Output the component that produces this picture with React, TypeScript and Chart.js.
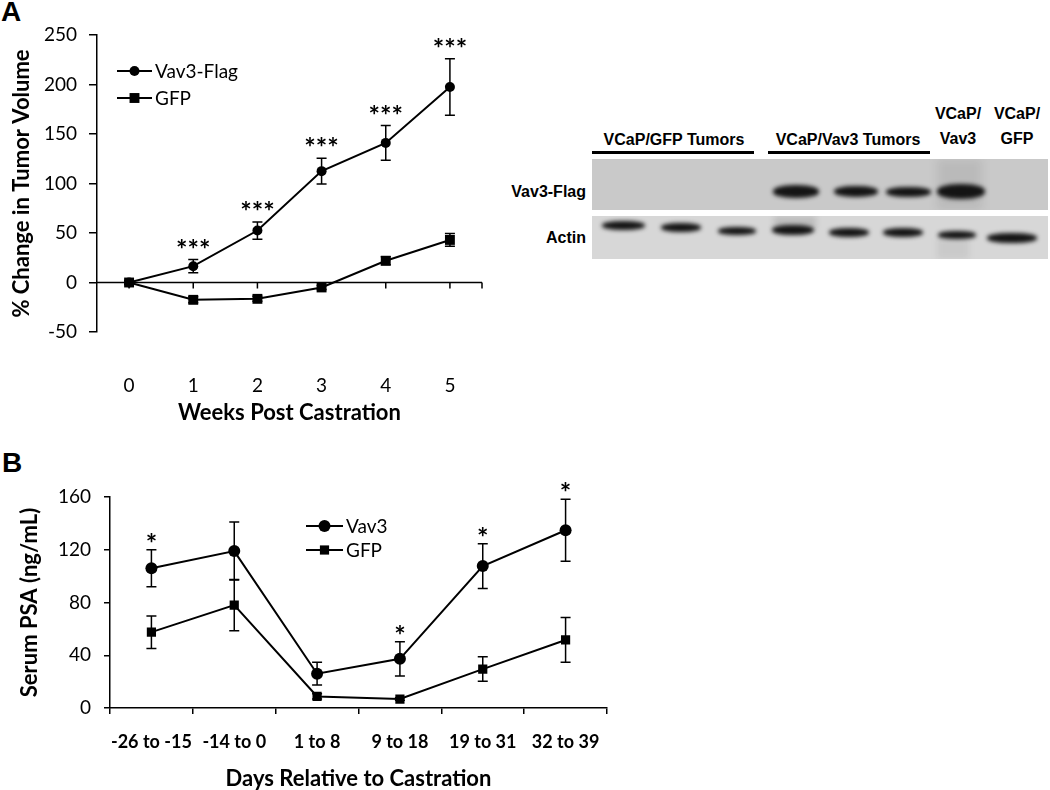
import React, { useEffect, useRef } from "react";
import { Chart, registerables } from "chart.js";

Chart.register(...registerables);

// ---------- Panel A data ----------
const weeks = ["0", "1", "2", "3", "4", "5"];
const vav3Growth = [0, 16.5, 52.5, 112.5, 141, 197.5];
const vav3GrowthErr = [2, 6.7, 8.7, 13, 17.5, 28.5];
const gfpGrowth = [0, -17.5, -16.5, -5, 22, 43];
const gfpGrowthErr = [2, 3, 2.5, 2, 4, 6.5];
const growthStars = ["", "***", "***", "***", "***", "***"];

// ---------- Panel B data ----------
const dayRanges = ["-26 to -15", "-14 to 0", "1 to 8", "9 to 18", "19 to 31", "32 to 39"];
const vav3Psa = [106, 119, 26, 37.3, 107.6, 134.8];
const vav3PsaErr = [14, 22, 8.6, 13, 17, 23.5];
const gfpPsa = [57.5, 78, 8.8, 6.8, 29.5, 51.6];
const gfpPsaErr = [12.3, 19.5, 2, 1, 9.3, 17];
const psaStars = ["*", "", "", "*", "*", "*"];

// ---------- Blot labels ----------
const blotGroups = ["VCaP/GFP Tumors", "VCaP/Vav3 Tumors"];
const blotControls = [["VCaP/", "Vav3"], ["VCaP/", "GFP"]];
const blotRows = ["Vav3-Flag", "Actin"];

const FONT = "Lato";

// ---------- plugins ----------
const errorBarPlugin = {
  id: "errorBars",
  afterDatasetsDraw(chart: any, _a: any, opts: any) {
    const ctx = chart.ctx;
    const y = chart.scales.y;
    const errs = opts.errors || [];
    chart.data.datasets.forEach((ds: any, di: number) => {
      const e = errs[di];
      if (!e) return;
      const meta = chart.getDatasetMeta(di);
      ctx.save();
      ctx.strokeStyle = "#000";
      ctx.lineWidth = opts.lineWidth || 1.5;
      meta.data.forEach((pt: any, i: number) => {
        const v = ds.data[i];
        const err = e[i];
        if (!err) return;
        const top = y.getPixelForValue(v + err);
        const bot = y.getPixelForValue(v - err);
        const x = pt.x;
        const c = opts.cap || 5;
        ctx.beginPath();
        ctx.moveTo(x, top);
        ctx.lineTo(x, bot);
        ctx.moveTo(x - c, top);
        ctx.lineTo(x + c, top);
        ctx.moveTo(x - c, bot);
        ctx.lineTo(x + c, bot);
        ctx.stroke();
      });
      ctx.restore();
    });
  },
};

const starsPlugin = {
  id: "stars",
  afterDatasetsDraw(chart: any, _a: any, opts: any) {
    const ctx = chart.ctx;
    const y = chart.scales.y;
    const meta = chart.getDatasetMeta(opts.datasetIndex || 0);
    const ds = chart.data.datasets[opts.datasetIndex || 0];
    ctx.save();
    ctx.fillStyle = "#000";
    ctx.font = opts.font;
    ctx.textAlign = "center";
    ctx.textBaseline = "alphabetic";
    (opts.labels || []).forEach((lab: string, i: number) => {
      if (!lab) return;
      const top = y.getPixelForValue(ds.data[i] + (opts.errors[i] || 0));
      const center = top - opts.gap;
      const m = ctx.measureText(lab);
      const base = center + (m.actualBoundingBoxAscent - m.actualBoundingBoxDescent) / 2;
      ctx.fillText(lab, meta.data[i].x, base);
    });
    ctx.restore();
  },
};

const zeroAxisPlugin = {
  id: "zeroAxis",
  beforeDatasetsDraw(chart: any, _a: any, opts: any) {
    const ctx = chart.ctx;
    const { left, right } = chart.chartArea;
    const y0 = chart.scales.y.getPixelForValue(0);
    const x = chart.scales.x;
    ctx.save();
    ctx.strokeStyle = "#000";
    ctx.lineWidth = 1.5;
    ctx.beginPath();
    ctx.moveTo(left, y0);
    ctx.lineTo(right, y0);
    const tl = opts.tickLength || 6;
    chart.data.labels.forEach((_l: any, i: number) => {
      const px = x.getPixelForValue(i);
      ctx.moveTo(px, y0);
      ctx.lineTo(px, y0 + tl);
    });
    ctx.moveTo(right, y0);
    ctx.lineTo(right, y0 + tl);
    ctx.stroke();
    ctx.restore();
  },
};

const legendPlugin = {
  id: "customLegend",
  afterDraw(chart: any, _a: any, opts: any) {
    const ctx = chart.ctx;
    ctx.save();
    chart.data.datasets.forEach((ds: any, i: number) => {
      const yy = opts.y + i * opts.spacing;
      ctx.strokeStyle = "#000";
      ctx.lineWidth = 2;
      ctx.beginPath();
      ctx.moveTo(opts.x, yy);
      ctx.lineTo(opts.x + opts.lineLen, yy);
      ctx.stroke();
      const mx = opts.x + opts.lineLen / 2;
      ctx.fillStyle = "#000";
      if (ds.pointStyle === "rect") {
        const s = ds.pointRadius * Math.SQRT1_2;
        ctx.fillRect(mx - s, yy - s, 2 * s, 2 * s);
      } else {
        ctx.beginPath();
        ctx.arc(mx, yy, ds.pointRadius, 0, Math.PI * 2);
        ctx.fill();
      }
      ctx.font = opts.font;
      ctx.textAlign = "left";
      ctx.textBaseline = "middle";
      ctx.fillText(ds.label, opts.x + opts.lineLen + opts.textGap, yy + 1);
    });
    ctx.restore();
  },
};

function ChartCanvas({ config, left, top, width, height }: any) {
  const ref = useRef<HTMLCanvasElement>(null);
  useEffect(() => {
    const chart = new Chart(ref.current as HTMLCanvasElement, config);
    return () => chart.destroy();
  }, []);
  return (
    <canvas
      ref={ref}
      width={width}
      height={height}
      style={{ position: "absolute", left, top, width, height }}
    />
  );
}

const black = "#000";

const configA: any = {
  type: "line",
  data: {
    labels: weeks,
    datasets: [
      {
        label: "Vav3-Flag",
        data: vav3Growth,
        borderColor: black,
        backgroundColor: black,
        borderWidth: 2,
        pointStyle: "circle",
        pointRadius: 5,
        pointBorderWidth: 0,
        tension: 0,
      },
      {
        label: "GFP",
        data: gfpGrowth,
        borderColor: black,
        backgroundColor: black,
        borderWidth: 2,
        pointStyle: "rect",
        pointRadius: 7,
        pointBorderWidth: 0,
        tension: 0,
      },
    ],
  },
  options: {
    animation: false,
    responsive: false,
    devicePixelRatio: 1,
    layout: { padding: { top: 35, right: 18, left: 0, bottom: 0 } },
    plugins: {
      legend: { display: false },
      tooltip: { enabled: false },
      errorBars: { errors: [vav3GrowthErr, gfpGrowthErr], cap: 5, lineWidth: 1.5 },
      stars: { datasetIndex: 0, labels: growthStars, errors: vav3GrowthErr, gap: 16, font: `bold 27px ${FONT}` },
      zeroAxis: { tickLength: 6 },
      customLegend: { x: 117, y: 71, spacing: 27, lineLen: 35, textGap: 3, font: `19px ${FONT}` },
    },
    scales: {
      x: {
        type: "category",
        offset: true,
        grid: { display: false },
        border: { display: false },
        ticks: { padding: 34, maxRotation: 0, minRotation: 0, autoSkip: false, color: black, font: { family: FONT, size: 19 } },
        title: {
          display: true,
          text: "Weeks Post Castration",
          color: black,
          font: { family: FONT, size: 22, weight: "bold", lineHeight: 1 },
          padding: { top: 0, bottom: 6 },
        },
        afterFit: (s: any) => {
          s.height = 98;
        },
      },
      y: {
        min: -50,
        max: 250,
        ticks: { stepSize: 50, padding: 12, color: black, font: { family: FONT, size: 19 } },
        grid: { drawOnChartArea: false, drawTicks: true, tickLength: 8, color: black, lineWidth: 1.5 },
        border: { display: true, color: black, width: 1.5 },
        title: {
          display: true,
          text: "% Change in Tumor Volume",
          color: black,
          font: { family: FONT, size: 22, weight: "bold", lineHeight: 1 },
          padding: { top: 11, bottom: 0 },
        },
        afterFit: (s: any) => {
          s.width = 97;
        },
      },
    },
  },
  plugins: [zeroAxisPlugin, errorBarPlugin, starsPlugin, legendPlugin],
};

const configB: any = {
  type: "line",
  data: {
    labels: dayRanges,
    datasets: [
      {
        label: "Vav3",
        data: vav3Psa,
        borderColor: black,
        backgroundColor: black,
        borderWidth: 2,
        pointStyle: "circle",
        pointRadius: 6,
        pointBorderWidth: 0,
        tension: 0,
      },
      {
        label: "GFP",
        data: gfpPsa,
        borderColor: black,
        backgroundColor: black,
        borderWidth: 2,
        pointStyle: "rect",
        pointRadius: 6.5,
        pointBorderWidth: 0,
        tension: 0,
      },
    ],
  },
  options: {
    animation: false,
    responsive: false,
    devicePixelRatio: 1,
    layout: { padding: { top: 47, right: 33, left: 0, bottom: 0 } },
    plugins: {
      legend: { display: false },
      tooltip: { enabled: false },
      errorBars: { errors: [vav3PsaErr, gfpPsaErr], cap: 5, lineWidth: 1.5 },
      stars: { datasetIndex: 0, labels: psaStars, errors: vav3PsaErr, gap: 12, font: `bold 27px ${FONT}` },
      customLegend: { x: 306, y: 76, spacing: 24, lineLen: 37, textGap: 3, font: `19px ${FONT}` },
    },
    scales: {
      x: {
        type: "category",
        offset: true,
        grid: { display: true, drawOnChartArea: false, offset: true, tickLength: 6, color: black, lineWidth: 1.5 },
        border: { display: true, color: black, width: 1.5 },
        ticks: {
          padding: 17,
          maxRotation: 0,
          minRotation: 0,
          autoSkip: false,
          color: black,
          font: { family: FONT, size: 18, weight: "bold" },
        },
        title: {
          display: true,
          text: "Days Relative to Castration",
          color: black,
          font: { family: FONT, size: 22, weight: "bold", lineHeight: 1 },
          padding: { top: 0, bottom: 0 },
        },
        afterFit: (s: any) => {
          s.height = 82;
        },
      },
      y: {
        min: 0,
        max: 160,
        ticks: { stepSize: 40, padding: 13, color: black, font: { family: FONT, size: 19 } },
        grid: { drawOnChartArea: false, drawTicks: true, tickLength: 6, color: black, lineWidth: 1.5 },
        border: { display: true, color: black, width: 1.5 },
        title: {
          display: true,
          text: "Serum PSA (ng/mL)",
          color: black,
          font: { family: FONT, size: 22, weight: "bold", lineHeight: 1 },
          padding: { top: 19, bottom: 0 },
        },
        afterFit: (s: any) => {
          s.width = 110;
        },
      },
    },
  },
  plugins: [errorBarPlugin, starsPlugin, legendPlugin],
};

const bold16: React.CSSProperties = {
  position: "absolute",
  fontFamily: "'Liberation Sans', Arial, sans-serif",
  fontWeight: "bold",
  fontSize: 16,
  color: "#000",
  whiteSpace: "nowrap",
  lineHeight: "25px",
};

function Band({ cx, cy, w, h, dark = "#141414", blur = 2.3 }: any) {
  return (
    <div
      style={{
        position: "absolute",
        left: cx - w / 2,
        top: cy - h / 2,
        width: w,
        height: h,
        background: dark,
        borderRadius: "45%",
        filter: `blur(${blur}px)`,
      }}
    />
  );
}

function Blot() {
  return (
    <>
      {/* headers */}
      <div style={{ ...bold16, left: 674, top: 139, transform: "translate(-50%,-50%)" }}>{blotGroups[0]}</div>
      <div style={{ ...bold16, left: 848, top: 139, transform: "translate(-50%,-50%)" }}>{blotGroups[1]}</div>
      <div style={{ position: "absolute", left: 592, top: 151, width: 162, height: 3, background: "#000" }} />
      <div style={{ position: "absolute", left: 768, top: 151, width: 162, height: 3, background: "#000" }} />
      <div style={{ ...bold16, left: 958, top: 126, transform: "translate(-50%,-50%)", textAlign: "center" }}>
        {blotControls[0][0]}
        <br />
        {blotControls[0][1]}
      </div>
      <div style={{ ...bold16, left: 1017, top: 126, transform: "translate(-50%,-50%)", textAlign: "center" }}>
        {blotControls[1][0]}
        <br />
        {blotControls[1][1]}
      </div>
      {/* row labels */}
      <div style={{ ...bold16, right: 1050 - 586, top: 191, transform: "translateY(-50%)" }}>{blotRows[0]}</div>
      <div style={{ ...bold16, right: 1050 - 586, top: 237, transform: "translateY(-50%)" }}>{blotRows[1]}</div>
      {/* upper panel */}
      <div
        style={{
          position: "absolute",
          left: 592,
          top: 159,
          width: 456,
          height: 51,
          background: "#c9c9c9",
          overflow: "hidden",
        }}
      >
        <div style={{ position: "absolute", left: 345, top: 0, width: 45, height: 51, background: "rgba(0,0,0,0.07)", filter: "blur(4px)" }} />
      </div>
      <Band cx={796} cy={191} w={46} h={13} />
      <Band cx={856} cy={191} w={44} h={11} />
      <Band cx={908} cy={191.5} w={45} h={10} />
      <Band cx={961} cy={191} w={48} h={15} />
      {/* lower panel */}
      <div
        style={{
          position: "absolute",
          left: 592,
          top: 216,
          width: 456,
          height: 43,
          background: "#d7d7d7",
          overflow: "hidden",
        }}
      >
        <div style={{ position: "absolute", left: 182, top: 0, width: 42, height: 12, background: "rgba(0,0,0,0.12)", filter: "blur(3px)" }} />
        <div style={{ position: "absolute", left: 345, top: 22, width: 32, height: 21, background: "rgba(0,0,0,0.06)", filter: "blur(3px)" }} />
      </div>
      <Band cx={623} cy={225.5} w={43} h={9} />
      <Band cx={681} cy={227.5} w={40} h={9} />
      <Band cx={737} cy={230.5} w={38} h={8} />
      <Band cx={793} cy={230} w={42} h={10} />
      <Band cx={849} cy={232.5} w={40} h={9} />
      <Band cx={903} cy={232.5} w={40} h={9} />
      <Band cx={957} cy={235} w={38} h={8} />
      <Band cx={1012} cy={238} w={50} h={10} />
    </>
  );
}

export default function App() {
  return (
    <div
      style={{
        position: "absolute",
        left: 0,
        top: 0,
        width: 1050,
        height: 790,
        background: "#fff",
        overflow: "hidden",
      }}
    >
      <div
        style={{
          position: "absolute",
          left: 1,
          top: -2,
          fontFamily: "'Liberation Sans', Arial, sans-serif",
          fontWeight: "bold",
          fontSize: 28,
          lineHeight: "28px",
        }}
      >
        A
      </div>
      <div
        style={{
          position: "absolute",
          left: 2,
          top: 449,
          fontFamily: "'Liberation Sans', Arial, sans-serif",
          fontWeight: "bold",
          fontSize: 28,
          lineHeight: "28px",
        }}
      >
        B
      </div>
      <ChartCanvas config={configA} left={0} top={0} width={500} height={430} />
      <ChartCanvas config={configB} left={0} top={450} width={640} height={340} />
      <Blot />
    </div>
  );
}
